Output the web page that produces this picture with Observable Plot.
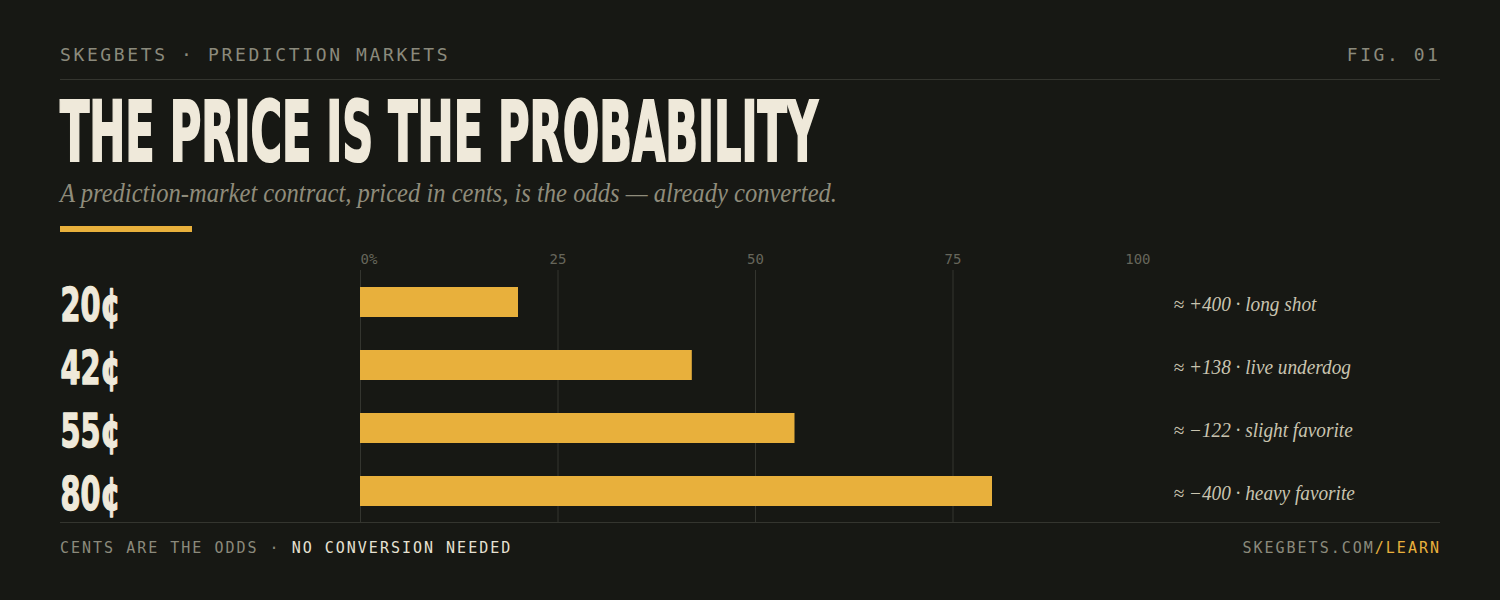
<!DOCTYPE html>
<html><head><meta charset="utf-8">
<script src="https://cdn.jsdelivr.net/npm/d3@7"></script>
<script src="https://cdn.jsdelivr.net/npm/@observablehq/plot@0.6"></script>
<style>
html,body{margin:0;padding:0;background:#171814;width:1500px;height:600px;overflow:hidden;}
.abs{position:absolute;white-space:nowrap;top:0;}
.mono{font-family:"DejaVu Sans Mono",monospace;}
</style></head><body>
<div id="kicker" class="abs mono" style="left:60px;font-size:18px;letter-spacing:2.62px;color:#8b8a7c">SKEGBETS · PREDICTION MARKETS</div>
<div id="fig" class="abs mono" style="right:59.5px;font-size:18px;letter-spacing:2.55px;color:#8b8a7c">FIG. 01</div>
<div class="abs" style="left:60px;top:79px;width:1380px;height:1px;background:#34352f"></div>
<div id="title" class="abs" style="left:60px;font-family:'DejaVu Sans Condensed','DejaVu Sans',sans-serif;font-weight:700;font-size:83px;color:#efe9da;-webkit-text-stroke:2.2px #efe9da;"><span id="titleInner" style="display:inline-block;transform-origin:0 0;">THE PRICE IS THE PROBABILITY</span></div>
<div id="sub" class="abs" style="left:60px;font-family:'Liberation Serif',serif;font-style:italic;font-size:27px;color:#8f8c7b"><span id="subInner" style="display:inline-block;transform-origin:0 0;">A prediction-market contract, priced in cents, is the odds — already converted.</span></div>
<div class="abs" style="left:60px;top:226px;width:132px;height:6px;background:#e8b03c"></div>
<div id="chart" class="abs" style="left:60px;top:240px;"></div>
<div class="abs" style="left:60px;top:522px;width:1380px;height:1px;background:#34352f"></div>
<div id="foot" class="abs mono" style="left:60px;font-size:15px;letter-spacing:2px;color:#8b8a7c">CENTS ARE THE ODDS · <span style="color:#e6e1d2">NO CONVERSION NEEDED</span></div>
<div id="foot2" class="abs mono" style="right:59px;font-size:15px;letter-spacing:2px;color:#8b8a7c">SKEGBETS.COM<span style="color:#e8b03c">/LEARN</span></div>
<script>
// ---- data ----
const prices = [20, 42, 55, 80];
const priceLabels = ["20¢", "42¢", "55¢", "80¢"];
const oddsLabels = ["+400", "+138", "−122", "−400"];
const tagLabels = ["long shot", "live underdog", "slight favorite", "heavy favorite"];
const ticks = [0, 25, 50, 75, 100];
const tickLabels = ["0%", "25", "50", "75", "100"];

const data = prices.map((v, i) => ({price: v, label: priceLabels[i], odds: oddsLabels[i], tag: tagLabels[i]}));
const annot = d => `≈ ${d.odds} · ${d.tag}`;

const tickStyle = {fontFamily: "DejaVu Sans Mono, monospace", fontSize: 14, fill: "#66665b", frameAnchor: "top", lineAnchor: "middle", dy: -10.5};

const chart = Plot.plot({
  width: 1380, height: 282,
  marginLeft: 300, marginRight: 290, marginTop: 30, marginBottom: 0,
  style: {background: "transparent", overflow: "visible"},
  x: {domain: [0, 100], axis: null},
  y: {domain: priceLabels, axis: null, paddingInner: 0.524, paddingOuter: 0.262, align: 0.5},
  marks: [
    Plot.ruleX(ticks.slice(0, 4), {stroke: "#34352f", strokeWidth: 1}),
    Plot.barX(data, {x: "price", y: "label", fill: "#e8b03c"}),
    Plot.text([ticks[0]], {x: d => d, text: d => tickLabels[ticks.indexOf(d)], textAnchor: "start", ...tickStyle}),
    Plot.text(ticks.slice(1, 4), {x: d => d, text: d => tickLabels[ticks.indexOf(d)], textAnchor: "middle", ...tickStyle}),
    Plot.text([ticks[4]], {x: d => d, text: d => tickLabels[ticks.indexOf(d)], textAnchor: "end", ...tickStyle}),
    Plot.text(data, {y: "label", text: "label", frameAnchor: "left", dx: -300, dy: 3, textAnchor: "start",
      fontSize: 47, fontWeight: 700, fontFamily: "DejaVu Sans Condensed, DejaVu Sans, sans-serif", fill: "#efe9da",
      stroke: "#efe9da", strokeWidth: 1.4}),
    Plot.text(data, {y: "label", text: annot, frameAnchor: "right", dx: 23, dy: 2.5, textAnchor: "start",
      fontSize: 20, fontStyle: "italic", fontFamily: "Liberation Serif, serif", fill: "#c9c4b0"})
  ]
});
document.getElementById("chart").appendChild(chart);

// scale condensed labels
function scaleTexts(strings, targetW) {
  const texts = Array.from(chart.querySelectorAll("text")).filter(t => strings.includes(t.textContent));
  if (!texts.length) return;
  const w0 = texts[0].getComputedTextLength();
  const k = targetW / w0;
  texts.forEach(t => t.setAttribute("transform", (t.getAttribute("transform") || "") + ` scale(${k},1)`));
}
try { scaleTexts(priceLabels, 60); } catch (e) {}
try { scaleTexts(data.map(annot), 143); } catch (e) {}

// fit header texts
function fit(id, w) {
  const el = document.getElementById(id);
  const k = w / el.getBoundingClientRect().width;
  el.style.transform = `scaleX(${k})`;
}
fit("titleInner", 758);
fit("subInner", 777);

function placeBaseline(id, y) {
  const el = document.getElementById(id);
  const m = document.createElement("span");
  m.style.cssText = "display:inline-block;width:0;height:0;vertical-align:baseline";
  el.appendChild(m);
  const b = m.getBoundingClientRect().top;
  el.style.top = (parseFloat(el.style.top || 0) + y - b) + "px";
  m.remove();
}
placeBaseline("kicker", 60.5);
placeBaseline("fig", 60.5);
placeBaseline("title", 161);
placeBaseline("sub", 202);
placeBaseline("foot", 553.3);
placeBaseline("foot2", 553.3);
</script>
</body></html>
